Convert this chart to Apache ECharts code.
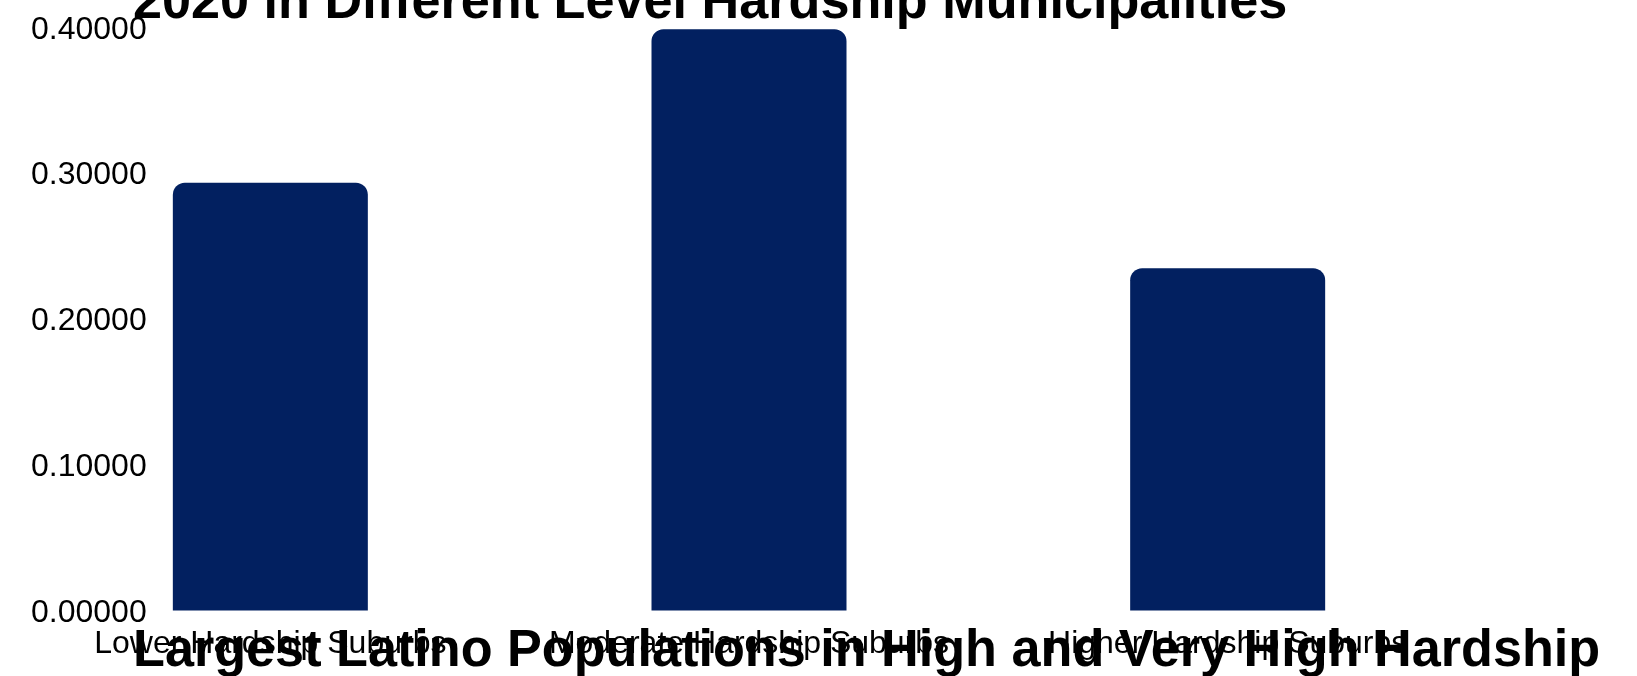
<!DOCTYPE html>
<html>
<head>
<meta charset="utf-8">
<script src="https://cdn.jsdelivr.net/npm/echarts@6/dist/echarts.min.js"></script>
<style>
html,body{margin:0;padding:0;background:#fff;}
#chart{width:1637px;height:676px;}
</style>
</head>
<body>
<div id="chart"></div>
<script>
const categories = ["Lower Hardship Suburbs", "Moderate Hardship Suburbs", "Higher Hardship Suburbs"];
const values = [0.2931, 0.3982, 0.2345];
const titleTop = "2020 in Different Level Hardship Municipalities";
const titleBottom = "Largest Latino Populations in High and Very High Hardship";
const yMin = 0, yMax = 0.4, yInterval = 0.1;

const chart = echarts.init(document.getElementById('chart'), null, {renderer: 'canvas'});
const font = '"Liberation Sans", Arial, sans-serif';
chart.setOption({
  backgroundColor: '#ffffff',
  animation: false,
  title: [
    {
      text: titleTop, left: 133, top: -22.5, padding: 0,
      textStyle: {fontFamily: font, fontSize: 52.2, fontWeight: 'bold', color: '#000', lineHeight: 52}
    },
    {
      text: titleBottom, left: 133, top: 626, padding: 0, z: 10,
      textStyle: {fontFamily: font, fontSize: 52.2, fontWeight: 'bold', color: '#000', lineHeight: 52}
    }
  ],
  grid: {left: 31, right: 170, top: 26.7, bottom: 65.5, containLabel: false},
  xAxis: {
    type: 'category',
    data: categories,
    axisLine: {show: false},
    axisTick: {show: false},
    splitLine: {show: false},
    axisLabel: {fontFamily: font, fontSize: 32, color: '#000', margin: 18, interval: 0}
  },
  yAxis: {
    type: 'value',
    min: yMin, max: yMax, interval: yInterval,
    axisLine: {show: false},
    axisTick: {show: false},
    splitLine: {show: false},
    axisLabel: {
      inside: true, margin: 0, fontFamily: font, fontSize: 32, color: '#000',
      verticalAlign: 'top', lineHeight: 6,
      formatter: v => v.toFixed(5)
    }
  },
  series: [{
    type: 'bar',
    data: values,
    barWidth: 195,
    itemStyle: {color: '#022060', borderRadius: [12, 12, 0, 0]}
  }]
});
</script>
</body>
</html>
